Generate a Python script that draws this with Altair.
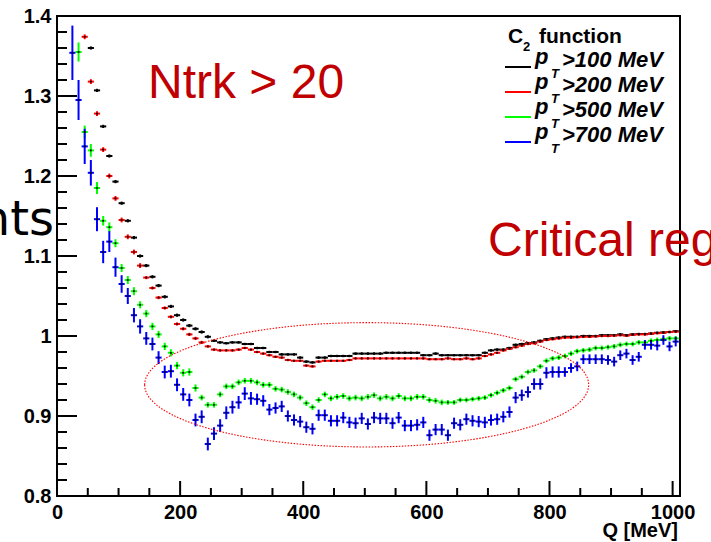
import altair as alt
import pandas as pd

# ---------------------------------------------------------------------------
# C2 correlation function vs Q, four pT thresholds (10 MeV bins)
# ---------------------------------------------------------------------------
BIN = 10.0
Q_MAX = 1012

series_names = ["pT>100 MeV", "pT>200 MeV", "pT>500 MeV", "pT>700 MeV"]
series_colors = ["#000000", "#ff0000", "#00ff00", "#0000ff"]
series_widths = [2, 2, 2, 2.4]
legend_labels = [">100 MeV", ">200 MeV", ">500 MeV", ">700 MeV"]

# first bin centre of each series
black_start, red_start, green_start, blue_start = 55, 45, 35, 25

black_c2 = [
    1.360, 1.307, 1.262, 1.225, 1.193, 1.166, 1.144, 1.123, 1.100, 1.088,
    1.074, 1.063, 1.049, 1.037, 1.026, 1.020, 1.013, 1.009, 1.005, 0.999,
    0.994, 0.992, 0.991, 0.992, 0.992, 0.990, 0.990, 0.985, 0.985, 0.980,
    0.980, 0.977, 0.977, 0.977, 0.973, 0.968, 0.967, 0.973, 0.973, 0.975,
    0.975, 0.975, 0.975, 0.978, 0.978, 0.978, 0.978, 0.978, 0.979, 0.979,
    0.979, 0.979, 0.979, 0.979, 0.976, 0.976, 0.978, 0.976, 0.976, 0.976,
    0.976, 0.976, 0.976, 0.976, 0.979, 0.982, 0.983, 0.983, 0.985, 0.989,
    0.990, 0.991, 0.992, 0.994, 0.996, 0.997, 0.998, 0.999, 0.999, 0.999,
    1.000, 1.000, 1.000, 1.001, 1.001, 1.001, 1.002, 1.001, 1.002, 1.0025,
    1.0025, 1.003, 1.004, 1.0045, 1.005, 1.006,
]
black_err = [0.002] * 20 + [0.0015] * 76

red_c2 = [
    1.374, 1.318, 1.278, 1.233, 1.200, 1.172, 1.145, 1.124, 1.105, 1.088,
    1.073, 1.060, 1.048, 1.035, 1.024, 1.015, 1.009, 1.002, 0.997, 0.992,
    0.987, 0.983, 0.982, 0.982, 0.982, 0.983, 0.985, 0.983, 0.980, 0.978,
    0.976, 0.974, 0.973, 0.970, 0.969, 0.969, 0.963, 0.962, 0.968, 0.969,
    0.969, 0.969, 0.969, 0.970, 0.972, 0.972, 0.972, 0.972, 0.972, 0.972,
    0.972, 0.972, 0.972, 0.972, 0.972, 0.972, 0.971, 0.971, 0.971, 0.972,
    0.971, 0.971, 0.972, 0.971, 0.972, 0.975, 0.977, 0.979, 0.982, 0.984,
    0.986, 0.988, 0.990, 0.991, 0.993, 0.995, 0.996, 0.997, 0.998, 0.998,
    0.9985, 0.999, 0.999, 0.9995, 1.000, 1.000, 1.0005, 1.001, 1.0005, 1.0015,
    1.002, 1.002, 1.003, 1.0035, 1.004, 1.005, 1.0055,
]
red_err = [0.003] * 10 + [0.002] * 10 + [0.0015] * 77

green_c2 = [
    1.355, 1.255, 1.232, 1.185, 1.144, 1.136, 1.116, 1.085, 1.070, 1.056,
    1.039, 1.028, 1.012, 1.002, 0.987, 0.979, 0.963, 0.954, 0.955, 0.935,
    0.923, 0.914, 0.914, 0.927, 0.937, 0.937, 0.942, 0.944, 0.944, 0.942,
    0.939, 0.939, 0.934, 0.933, 0.930, 0.927, 0.923, 0.916, 0.911, 0.920,
    0.927, 0.922, 0.924, 0.925, 0.922, 0.923, 0.922, 0.924, 0.926, 0.922,
    0.924, 0.922, 0.925, 0.922, 0.922, 0.924, 0.924, 0.920, 0.919, 0.917,
    0.917, 0.917, 0.920, 0.920, 0.921, 0.922, 0.923, 0.926, 0.929, 0.932,
    0.935, 0.946, 0.949, 0.955, 0.957, 0.962, 0.969, 0.972, 0.973, 0.975,
    0.978, 0.981, 0.982, 0.983, 0.985, 0.985, 0.986, 0.987, 0.989, 0.990,
    0.990, 0.992, 0.992, 0.994, 0.995, 0.996, 0.997, 0.997,
]
green_err = ([0.012, 0.008, 0.008, 0.0075, 0.006, 0.006, 0.005, 0.005, 0.005, 0.005]
             + [0.0045] * 10 + [0.0035] * 40 + [0.003] * 38)

blue_c2 = [
    1.354, 1.295, 1.237, 1.204, 1.146, 1.105, 1.118, 1.086, 1.065, 1.050,
    1.026, 1.012, 0.997, 0.990, 0.973, 0.955, 0.956, 0.939, 0.927, 0.920,
    0.895, 0.899, 0.865, 0.878, 0.888, 0.904, 0.911, 0.917, 0.928, 0.922,
    0.921, 0.919, 0.908, 0.910, 0.912, 0.900, 0.895, 0.893, 0.886, 0.884,
    0.901, 0.901, 0.894, 0.894, 0.898, 0.892, 0.891, 0.897, 0.890, 0.898,
    0.897, 0.897, 0.891, 0.898, 0.888, 0.888, 0.889, 0.892, 0.876, 0.883,
    0.883, 0.876, 0.891, 0.889, 0.896, 0.894, 0.893, 0.892, 0.895, 0.896,
    0.899, 0.905, 0.923, 0.926, 0.930, 0.940, 0.940, 0.954, 0.955, 0.955,
    0.955, 0.960, 0.962, 0.971, 0.971, 0.971, 0.971, 0.970, 0.968, 0.976,
    0.978, 0.970, 0.974, 0.989, 0.989, 0.988, 0.995, 0.987, 0.993,
]
blue_err = ([0.034, 0.025, 0.022, 0.016, 0.015, 0.014, 0.013, 0.012, 0.011, 0.010]
            + [0.009, 0.009, 0.008, 0.008, 0.008, 0.008, 0.008, 0.008, 0.008, 0.008]
            + [0.008] * 10 + [0.007] * 50 + [0.006] * 19)

# axis ticks
y_major = [0.8, 0.9, 1.0, 1.1, 1.2, 1.3, 1.4]
y_minor = [round(0.8 + 0.02 * i, 2) for i in range(31) if i % 5]
x_major = [0, 200, 400, 600, 800, 1000]
x_minor = [q for q in range(50, 1001, 50) if q % 200]

# ---------------------------------------------------------------------------
rows = []
for k, (name, start, vals, errs) in enumerate(zip(
        series_names,
        [black_start, red_start, green_start, blue_start],
        [black_c2, red_c2, green_c2, blue_c2],
        [black_err, red_err, green_err, blue_err])):
    for i, (v, e) in enumerate(zip(vals, errs)):
        q = start + BIN * i
        rows.append({"series": name, "k": k, "q": q,
                     "q_lo": q - BIN / 2, "q_hi": q + BIN / 2,
                     "c2": v, "lo": v - e, "hi": v + e})
df = pd.DataFrame(rows)

FONT = "Liberation Sans"
xscale = alt.Scale(domain=[0, Q_MAX], nice=False, zero=False)
yscale = alt.Scale(domain=[0.8, 1.4], nice=False, zero=False)
color = alt.Color("series:N", scale=alt.Scale(domain=series_names, range=series_colors),
                  legend=None)
width = alt.StrokeWidth("series:N",
                        scale=alt.Scale(domain=series_names, range=series_widths),
                        legend=None)

x_axis = alt.Axis(values=x_major, ticks=False, domain=False, grid=False, title=None,
                  labelFont=FONT, labelFontWeight="bold", labelFontSize=20,
                  labelColor="black", labelPadding=6, labelFlush=False,
                  labelOverlap=False, format="d")
y_axis = alt.Axis(values=y_major, ticks=False, domain=False, grid=False, title=None,
                  labelFont=FONT, labelFontWeight="bold", labelFontSize=20,
                  labelColor="black", labelPadding=6, labelOverlap=False, format="~g")

base = alt.Chart(df)

hbars = base.mark_rule().encode(
    x=alt.X("q_lo:Q", scale=xscale, axis=x_axis),
    x2="q_hi:Q",
    y=alt.Y("c2:Q", scale=yscale, axis=y_axis),
    color=color,
    strokeWidth=width,
    order="k:Q",
)
vbars = base.mark_rule().encode(
    x=alt.X("q:Q", scale=xscale, axis=x_axis),
    y=alt.Y("lo:Q", scale=yscale, axis=y_axis),
    y2="hi:Q",
    color=color,
    strokeWidth=width,
    order="k:Q",
)
dots = base.mark_square(size=3, color="black", opacity=1).encode(
    x=alt.X("q:Q", scale=xscale, axis=x_axis),
    y=alt.Y("c2:Q", scale=yscale, axis=y_axis),
)

# inward-pointing ticks
ymaj = alt.Chart(pd.DataFrame({"v": y_major})).mark_rule(color="black", strokeWidth=2).encode(
    y=alt.Y("v:Q", scale=yscale, axis=y_axis), x=alt.value(0), x2=alt.value(20))
ymin = alt.Chart(pd.DataFrame({"v": y_minor})).mark_rule(color="black", strokeWidth=2).encode(
    y=alt.Y("v:Q", scale=yscale, axis=y_axis), x=alt.value(0), x2=alt.value(10))
xmaj = alt.Chart(pd.DataFrame({"v": x_major})).mark_rule(color="black", strokeWidth=2).encode(
    x=alt.X("v:Q", scale=xscale, axis=x_axis), y=alt.value(480), y2=alt.value(465))
xmin = alt.Chart(pd.DataFrame({"v": x_minor})).mark_rule(color="black", strokeWidth=2).encode(
    x=alt.X("v:Q", scale=xscale, axis=x_axis), y=alt.value(480), y2=alt.value(472))

# dotted ellipse around the dip region
ellipse = alt.Chart(pd.DataFrame({"q": [503], "c2": [0.939]})).mark_point(
    shape="M -1 0 A 1 0.28 0 1 1 1 0 A 1 0.28 0 1 1 -1 0 Z",
    size=444 * 444, filled=False, stroke="#ff0000", strokeWidth=1.1,
    strokeDash=[1.5, 1.5], opacity=1,
).encode(x=alt.X("q:Q", scale=xscale, axis=x_axis),
         y=alt.Y("c2:Q", scale=yscale, axis=y_axis))

one = pd.DataFrame({"i": [0]})


def label(text, x, y, size, color="black", weight="normal", style="normal",
          font=FONT, align="left"):
    return alt.Chart(one).mark_text(
        text=text, font=font, fontSize=size, fontWeight=weight, fontStyle=style,
        color=color, align=align, baseline="alphabetic",
    ).encode(x=alt.value(x), y=alt.value(y))


texts = [
    label("Q [MeV]", 621, 521, 20, weight="bold", align="right"),
    label("Ntrk > 20", 91, 82, 48, color="#c00000"),
    label("Critical region", 431, 240, 48, color="#c00000"),
    label("nts", -3, 219, 48, font="DejaVu Sans", align="right"),
    # legend
    label("C", 451, 27, 21, weight="bold"),
    label("2", 466, 35, 13, weight="bold"),
    label("function", 482, 27, 21, weight="bold"),
]
for k, (col, txt) in enumerate(zip(series_colors, legend_labels)):
    dy = 25 * k
    texts.append(alt.Chart(one).mark_rule(color=col, strokeWidth=2).encode(
        x=alt.value(448), x2=alt.value(474), y=alt.value(51 + dy)))
    texts.append(label("p", 478, 48 + dy, 22, weight="bold", style="italic"))
    texts.append(label("T", 494, 62 + dy, 13, weight="bold", style="italic"))
    texts.append(label(txt, 505, 51 + dy, 22, weight="bold", style="italic"))

chart = alt.layer(
    ymaj, ymin, xmaj, xmin, hbars, vbars, dots, ellipse, *texts
).properties(
    width=623, height=480,
    padding={"left": 57, "top": 16, "right": 31, "bottom": 46},
    autosize=alt.AutoSizeParams(type="none"),
    background="white",
).configure_view(stroke="black", strokeWidth=2)

chart.save("out.html", embed_options={"renderer": "svg", "actions": False})
